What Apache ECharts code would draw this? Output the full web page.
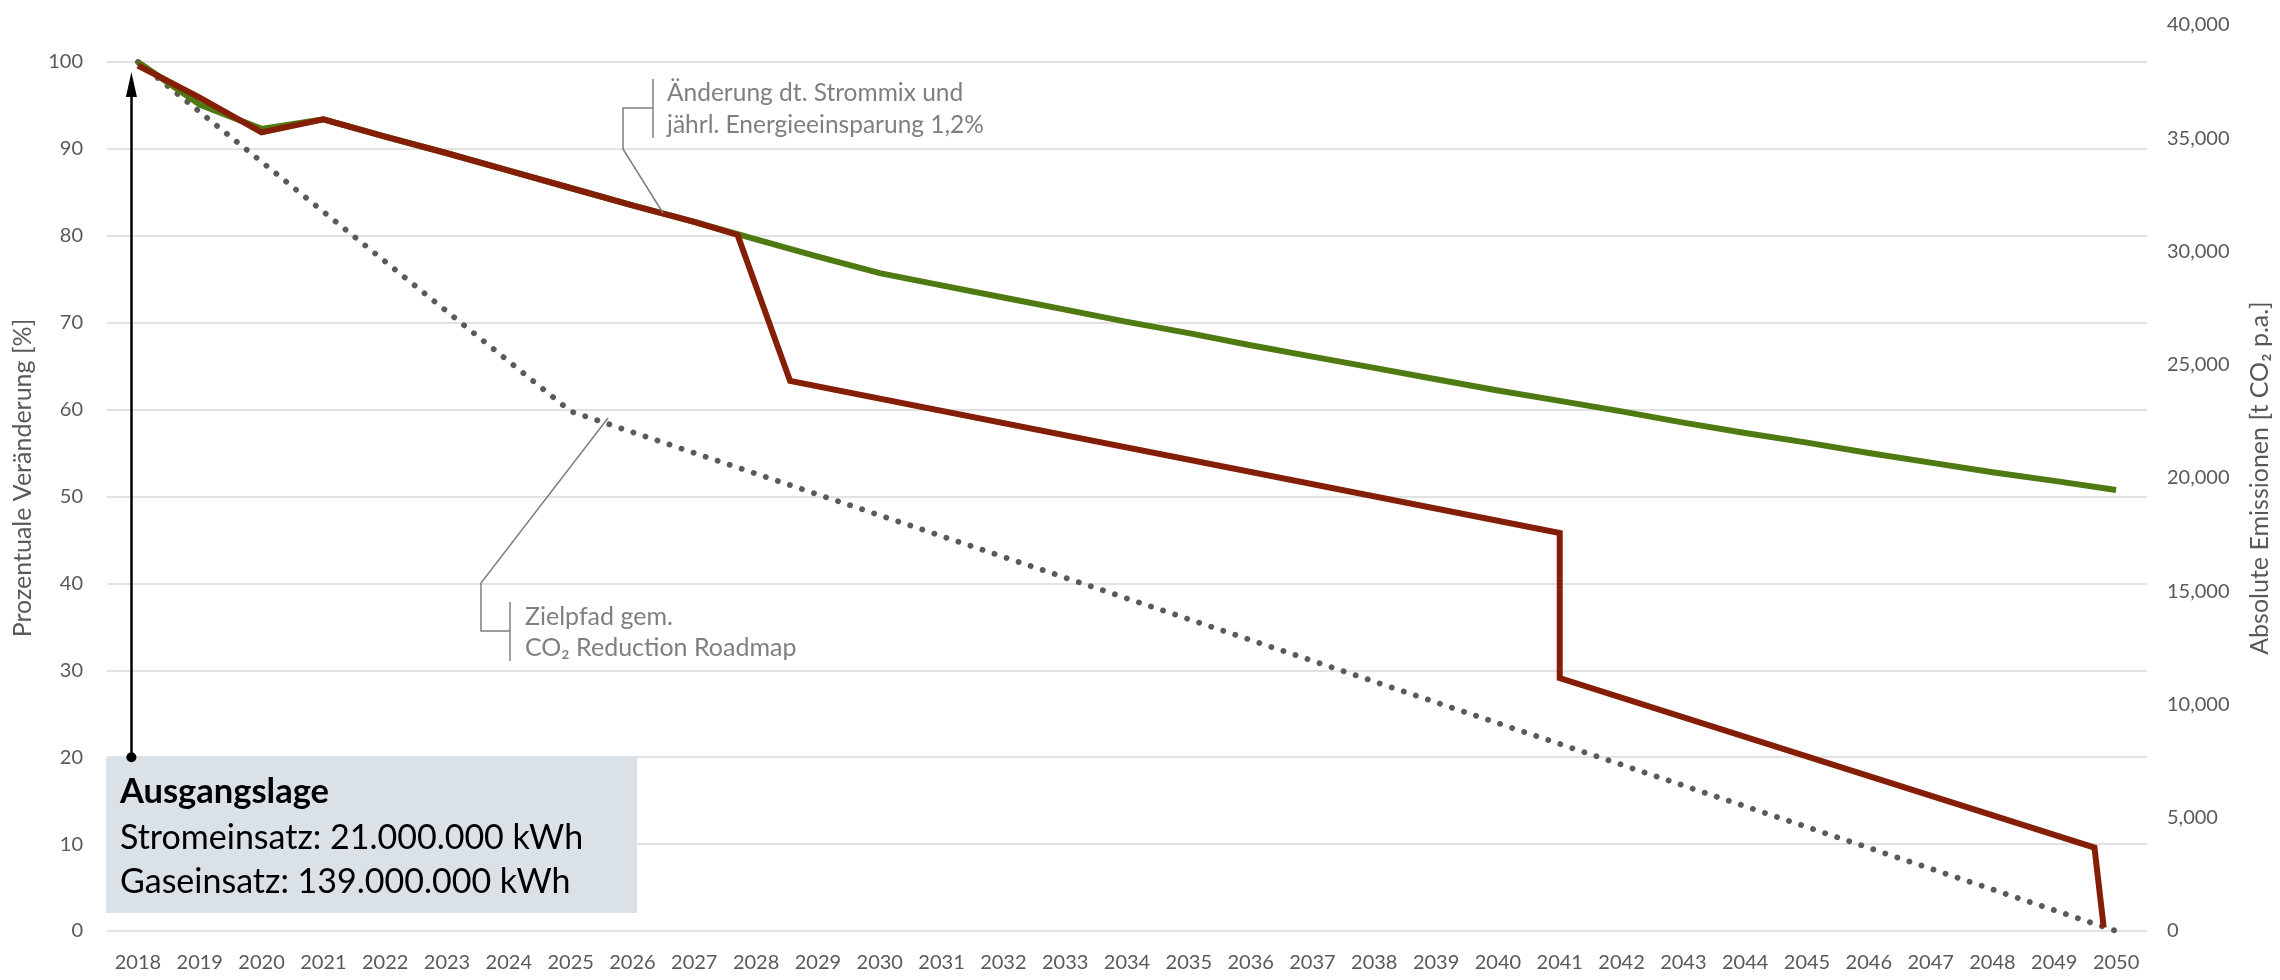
<!DOCTYPE html>
<html><head><meta charset="utf-8">
<script src="https://cdn.jsdelivr.net/npm/echarts@6/dist/echarts.min.js"></script>
<style>html,body{margin:0;padding:0;background:#fff}#c{width:2280px;height:980px}</style>
</head><body><div id="c"></div>
<script>
// ---- data ----
const years = ['2018','2019','2020','2021','2022','2023','2024','2025','2026','2027','2028','2029','2030','2031','2032','2033','2034','2035','2036','2037','2038','2039','2040','2041','2042','2043','2044','2045','2046','2047','2048','2049','2050'];
// "Änderung dt. Strommix und jährl. Energieeinsparung 1,2%" (green)
const strommixYears = [2018,2019,2020,2021,2022,2023,2024,2025,2026,2027,2028,2029,2030,2031,2032,2033,2034,2035,2036,2037,2038,2039,2040,2041,2042,2043,2044,2045,2046,2047,2048,2049,2050];
const strommixValues = [100,95.1,92.3,93.4,91.4,89.5,87.5,85.5,83.5,81.6,79.6,77.6,75.7,74.3,72.9,71.5,70.1,68.8,67.4,66.1,64.8,63.5,62.2,61.0,59.8,58.5,57.3,56.2,55.0,53.9,52.8,51.8,50.75];
// measures path (red)
const measureYears = [2018,2019,2020,2021,2022,2023,2024,2025,2026,2027,2027.7,2028.55,2041,2041,2049.65,2049.8];
const measureValues = [99.6,95.9,91.9,93.4,91.4,89.5,87.5,85.5,83.5,81.6,80.1,63.3,45.8,29.1,9.6,0.4];
// "Zielpfad gem. CO2 Reduction Roadmap" (dotted)
const targetYears = [2018,2025,2050];
const targetValues = [100,59.8,0];
// axes
const leftMax = 100, leftStep = 10;
const rightMax = 40000, rightStep = 5000;
// Ausgangslage arrow (from 20 % up to start value)
const arrowYear = 2017.895, arrowFrom = 20, arrowTo = 97.4;

const zip = (xs, ys) => xs.map((x, i) => [x, ys[i]]);
const FONT = 'Lato';
const GRID = '#D9D9D9', TXT = '#595959', NOTE = '#7F7F7F';

const chart = echarts.init(document.getElementById('c'));
chart.setOption({
  animation: false,
  backgroundColor: '#fff',
  textStyle: { fontFamily: FONT },
  grid: [
    { left: 107, right: 133, top: 25, bottom: 49 },
    { left: 107, right: 133, top: 62, bottom: 49 }
  ],
  xAxis: [
    { gridIndex: 0, type: 'value', min: 2017.5, max: 2050.5, show: false },
    { gridIndex: 1, type: 'category', data: years, boundaryGap: true, position: 'bottom',
      axisLine: { show: false }, axisTick: { show: false },
      axisLabel: { color: TXT, fontSize: 20, fontFamily: FONT, margin: 22, interval: 0 } },
    { gridIndex: 1, type: 'value', min: 2017.5, max: 2050.5, show: false, position: 'top' }
  ],
  yAxis: [
    { gridIndex: 1, type: 'value', min: 0, max: leftMax, interval: leftStep, position: 'left',
      axisLine: { show: false }, axisTick: { show: false },
      axisLabel: { color: TXT, fontSize: 20, fontFamily: FONT, margin: 24 },
      splitLine: { lineStyle: { color: GRID, width: 1.5 } } },
    { gridIndex: 0, type: 'value', min: 0, max: rightMax, interval: rightStep, position: 'right',
      axisLine: { show: false }, axisTick: { show: false }, splitLine: { show: false },
      axisLabel: { color: TXT, fontSize: 20, fontFamily: FONT, margin: 23,
        formatter: v => v.toLocaleString('en-US') },
      name: 'Absolute Emissionen [t CO₂ p.a.]', nameLocation: 'middle', nameRotate: 90, nameGap: 103,
      nameTextStyle: { color: TXT, fontSize: 25, fontFamily: FONT } },
    { gridIndex: 0, type: 'value', min: 0, max: 1, position: 'left',
      axisLine: { show: false }, axisTick: { show: false }, axisLabel: { show: false }, splitLine: { show: false },
      name: 'Prozentuale Veränderung [%]', nameLocation: 'middle', nameRotate: 90, nameGap: 72,
      nameTextStyle: { color: TXT, fontSize: 25, fontFamily: FONT } }
  ],
  series: [
    { name: 'Zielpfad', type: 'line', xAxisIndex: 2, yAxisIndex: 0, z: 2,
      data: zip(targetYears, targetValues), showSymbol: false, silent: true,
      lineStyle: { color: '#5A5A5A', width: 5.8, type: [0.1, 12.6], cap: 'round' },
      markLine: {
        silent: true, animation: false, label: { show: false },
        lineStyle: { color: '#000', width: 2.5, type: 'solid' },
        data: [[
          { coord: [arrowYear, arrowFrom], symbol: 'circle', symbolSize: 10 },
          { coord: [arrowYear, arrowTo], symbol: 'triangle', symbolSize: [11, 25] }
        ]]
      } },
    { name: 'Strommix', type: 'line', xAxisIndex: 2, yAxisIndex: 0, z: 3,
      data: zip(strommixYears, strommixValues), showSymbol: false, silent: true,
      lineStyle: { color: '#4F7A12', width: 6, join: 'miter' } },
    { name: 'Maßnahmen', type: 'line', xAxisIndex: 2, yAxisIndex: 0, z: 4,
      data: zip(measureYears, measureValues), showSymbol: false, silent: true,
      lineStyle: { color: '#841E06', width: 6, join: 'miter' } }
  ],
  graphic: [
    { type: 'rect', z: 1, shape: { x: 106, y: 757, width: 531, height: 156 }, style: { fill: '#DAE1E7' } },
    { type: 'text', z: 1, style: { x: 120, y: 792, text: 'Ausgangslage', font: 'bold 34.5px Lato', fill: '#000', verticalAlign: 'middle' } },
    { type: 'text', z: 1, style: { x: 120, y: 838, text: 'Stromeinsatz: 21.000.000 kWh', font: '34px Lato', fill: '#000', verticalAlign: 'middle' } },
    { type: 'text', z: 1, style: { x: 120, y: 882, text: 'Gaseinsatz: 139.000.000 kWh', font: '34px Lato', fill: '#000', verticalAlign: 'middle' } },
    // callout 1
    { type: 'polyline', z: 5, shape: { points: [[663, 213], [623, 149], [623, 108], [653, 108]] }, style: { stroke: NOTE, lineWidth: 1.5, fill: null } },
    { type: 'line', z: 5, shape: { x1: 653, y1: 79, x2: 653, y2: 138 }, style: { stroke: NOTE, lineWidth: 1.5 } },
    { type: 'text', z: 5, style: { x: 667, y: 93, text: 'Änderung dt. Strommix und', font: '24.5px Lato', fill: NOTE, verticalAlign: 'middle' } },
    { type: 'text', z: 5, style: { x: 667, y: 125, text: 'jährl. Energieeinsparung 1,2%', font: '24.5px Lato', fill: NOTE, verticalAlign: 'middle' } },
    // callout 2
    { type: 'polyline', z: 5, shape: { points: [[608, 418], [481, 583], [481, 631], [510, 631]] }, style: { stroke: NOTE, lineWidth: 1.5, fill: null } },
    { type: 'line', z: 5, shape: { x1: 510, y1: 602, x2: 510, y2: 661 }, style: { stroke: NOTE, lineWidth: 1.5 } },
    { type: 'text', z: 5, style: { x: 525, y: 617, text: 'Zielpfad gem.', font: '25px Lato', fill: NOTE, verticalAlign: 'middle' } },
    { type: 'text', z: 5, style: { x: 525, y: 648, text: 'CO₂ Reduction Roadmap', font: '25px Lato', fill: NOTE, verticalAlign: 'middle' } }
  ]
});
</script></body></html>
